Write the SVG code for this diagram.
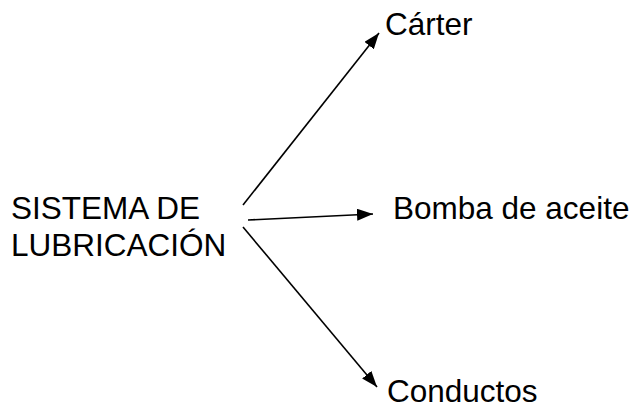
<svg xmlns="http://www.w3.org/2000/svg" width="638" height="414" viewBox="0 0 638 414">
<style>
text{font-family:"Liberation Sans",Arial,sans-serif;font-size:31.5px;fill:#000}
.c{stroke:#000;stroke-width:1.6;fill:none}
</style>
<defs>
<marker id="ah" viewBox="0 0 16 12" refX="16" refY="6" markerWidth="16" markerHeight="12" markerUnits="userSpaceOnUse" orient="auto">
<path d="M0,0 L16,6 L0,12 Z" fill="#000"/>
</marker>
</defs>
<rect width="638" height="414" fill="#fff"/>
<g id="connectors">
<line class="c" x1="243" y1="205" x2="379" y2="33" marker-end="url(#ah)"/>
<line class="c" x1="248" y1="220" x2="373" y2="214" marker-end="url(#ah)"/>
<line class="c" x1="243" y1="227" x2="377" y2="387" marker-end="url(#ah)"/>
</g>
<g id="sistema">
<text x="11" y="219">SISTEMA DE</text>
<text x="11" y="256">LUBRICACIÓN</text>
</g>
<g id="carter"><text x="385" y="35">Cárter</text></g>
<g id="bomba"><text x="393" y="219">Bomba de aceite</text></g>
<g id="conductos"><text x="387" y="402">Conductos</text></g>
</svg>
